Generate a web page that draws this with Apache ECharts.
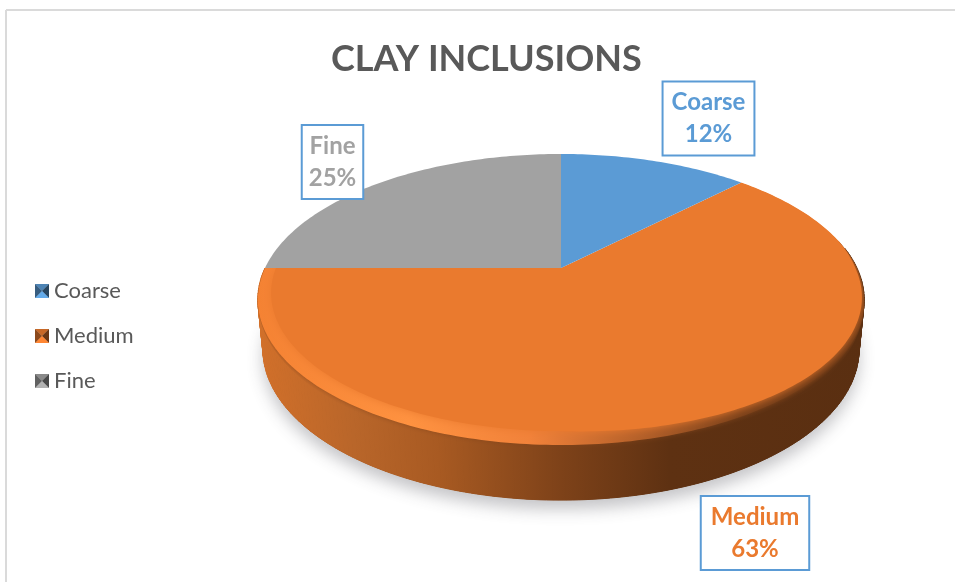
<!DOCTYPE html>
<html>
<head>
<meta charset="utf-8">
<style>
  html, body { margin: 0; padding: 0; background: #fff; }
  #chart { width: 955px; height: 582px; }
</style>
<script src="https://cdn.jsdelivr.net/npm/echarts@6/dist/echarts.min.js"></script>
</head>
<body>
<div id="chart"></div>
<script>
const categories = ["Coarse", "Medium", "Fine"];
const values = [12.4, 62.6, 25];
const colors = ["#5B9BD5", "#EA7A2E", "#A2A2A2"];

const total = values.reduce((a, b) => a + b, 0);

// perspective disc: apex of the pie sits above the middle of the ellipse
const cx = 561, cy = 268, rx = 296, ry = 138.7, tilt = 0.2166;
const labelBoxes = [
  { x: 708.5, y: 118.5, padX: 8 },
  { x: 755, y: 533, padX: 9 },
  { x: 332.5, y: 162, padX: 6 }
];
const STEP = Math.PI / 180;

function project(a, r) {
  const u = Math.sin(a) * r, v = Math.cos(a) * r;
  const w = 1 + tilt * v;
  return [cx + rx * u / w, cy - ry * v / w];
}

// bevel eats the front left of the face, it nearly vanishes to the right and back
function faceInset(a) {
  const u = Math.sin(a), v = Math.cos(a);
  const base = v > 0 ? 0.037 * Math.max(0, 1 - 5 * v) : 0.037 - 0.026 * v;
  return u > 0 ? base * (1 - 0.85 * u) : base;
}

function lower(p) {
  return [cx + (p[0] - cx) * 0.983, p[1] + 50 + (p[1] - 300) * 0.035];
}

function arc(a0, a1, fn) {
  const pts = [];
  const n = Math.max(2, Math.ceil((a1 - a0) / STEP));
  for (let i = 0; i <= n; i++) pts.push(fn(a0 + (a1 - a0) * i / n));
  return pts;
}

function hGradient(stops) {
  return new echarts.graphic.LinearGradient(257, 0, 864, 0,
    stops.map((s) => ({ offset: s[0], color: s[1] })), true);
}

const wallFill = () => hGradient([
  [0, "#D2702A"], [0.16, "#B9662A"], [0.3, "#A85A22"],
  [0.5, "#7E4219"], [0.68, "#5E3112"], [1, "#5A2F11"]
]);
const rimFill = () => hGradient([
  [0, "#F58233"], [0.25, "#FF9240"], [0.45, "#F2823A"],
  [0.62, "#B8622A"], [0.8, "#7A4019"], [1, "#623313"]
]);

function renderSlice(index, params, api) {
  const before = values.slice(0, index).reduce((a, b) => a + b, 0);
  const a0 = before / total * 2 * Math.PI;
  const a1 = (before + api.value(0)) / total * 2 * Math.PI;
  const color = colors[index];
  const apex = [cx, cy];
  const outer = arc(a0, a1, (a) => project(a, 1));
  const angles = arc(a0, a1, (a) => a);
  const children = [];

  // only slices reaching the front half show a wall and a bevel
  if (angles.some((a) => Math.cos(a) < -0.1)) {
    const below = outer.map(lower);
    // clip that lets a soft edge spill downwards but not past the far rim
    const spill = (d) => [apex].concat(outer.map((p, i) => [p[0], p[1] + Math.max(0, -Math.cos(angles[i])) * d]));
    children.push({
      type: "polygon", z2: 1,
      shape: { points: [lower(apex)].concat(below) },
      style: { fill: "#5E3112", shadowBlur: 16, shadowOffsetY: 9, shadowColor: "rgba(60,60,70,0.3)" }
    });
    for (let i = 0; i < outer.length - 1; i++) {
      if (Math.cos(angles[i]) > 0.15) continue;
      children.push({
        type: "polygon", z2: 2,
        shape: { points: [outer[i], outer[i + 1], below[i + 1], below[i]] },
        style: { fill: wallFill(), stroke: wallFill(), lineWidth: 1 }
      });
    }
    children.push({
      type: "polygon", z2: 3,
      shape: { points: [apex].concat(outer.filter((p, i) => Math.cos(angles[i]) < 0.2)) },
      style: { fill: rimFill(), shadowBlur: 5, shadowColor: "rgba(130,68,26,0.7)" },
      clipPath: { type: "polygon", shape: { points: spill(6) } }
    });
    children.push({
      type: "polygon", z2: 4,
      shape: { points: [apex].concat(arc(a0, a1, (a) => project(a, 1 - faceInset(a)))) },
      style: { fill: color, shadowBlur: 10, shadowColor: color },
      clipPath: { type: "polygon", shape: { points: spill(12) } }
    });
  } else {
    children.push({
      type: "polygon", z2: 5,
      shape: { points: [apex].concat(outer) },
      style: { fill: color }
    });
  }

  const pct = Math.round(api.value(0) / total * 100);
  const box = labelBoxes[index];
  children.push({
    type: "text", z2: 6,
    x: box.x, y: box.y,
    style: {
      text: categories[index] + "\n" + pct + "%",
      fill: color,
      font: "bold 24px Lato",
      lineHeight: 32,
      align: "center",
      verticalAlign: "middle",
      backgroundColor: "#fff",
      borderColor: "#5B9BD5",
      borderWidth: 2,
      padding: [8, box.padX, 0, box.padX]
    }
  });
  return { type: "group", children };
}

function shade(color, f) {
  const c = echarts.color.parse(color);
  return "rgb(" + [0, 1, 2].map((i) => Math.min(255, Math.round(c[i] * f))).join(",") + ")";
}

// bevelled legend key, four triangles meeting in the middle
function legendIcon(color) {
  const c = document.createElement("canvas");
  c.width = c.height = 28;
  const g = c.getContext("2d");
  const faces = [
    [[0, 0], [28, 0], 0.85],
    [[28, 0], [28, 28], 0.45],
    [[28, 28], [0, 28], 1.1],
    [[0, 28], [0, 0], 0.6]
  ];
  faces.forEach((f) => {
    g.fillStyle = shade(color, f[2]);
    g.beginPath();
    g.moveTo(f[0][0], f[0][1]);
    g.lineTo(f[1][0], f[1][1]);
    g.lineTo(14, 14);
    g.closePath();
    g.fill();
  });
  return "image://" + c.toDataURL();
}

const chart = echarts.init(document.getElementById("chart"));
chart.setOption({
  animation: false,
  title: {
    text: "CLAY INCLUSIONS",
    left: 326, top: 36,
    textStyle: { color: "#595959", fontFamily: "Lato", fontWeight: "bold", fontSize: 36 }
  },
  legend: {
    orient: "vertical",
    left: 30, top: 275,
    itemWidth: 14, itemHeight: 14, itemGap: 23,
    textStyle: { color: "#595959", fontFamily: "Lato", fontSize: 22 },
    data: categories.map((name, i) => ({ name, icon: legendIcon(colors[i]) }))
  },
  graphic: [
    { type: "line", shape: { x1: 6, y1: 10, x2: 955, y2: 10 }, style: { stroke: "#DADADA", lineWidth: 2 } },
    { type: "line", shape: { x1: 6, y1: 10, x2: 6, y2: 582 }, style: { stroke: "#DADADA", lineWidth: 2 } }
  ],
  series: categories.map((name, i) => ({
    type: "custom",
    name,
    coordinateSystem: "none",
    data: [[values[i]]],
    renderItem: (params, api) => renderSlice(i, params, api)
  }))
});
</script>
</body>
</html>
